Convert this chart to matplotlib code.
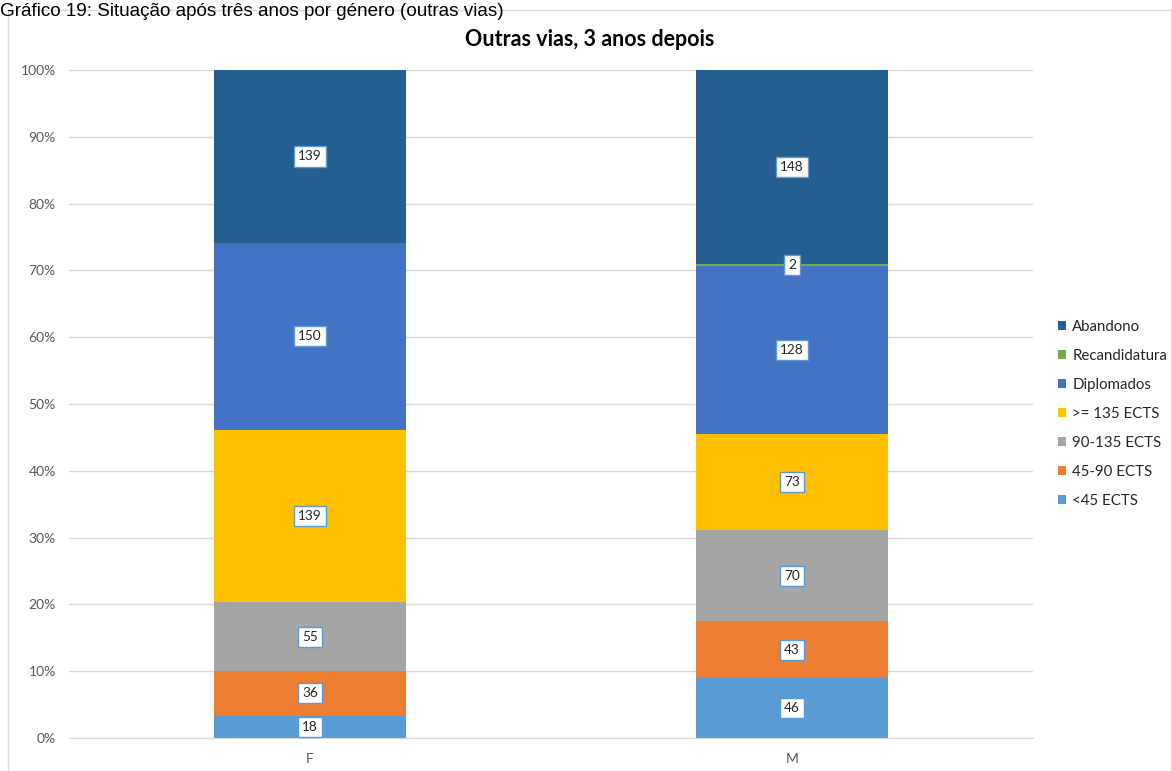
import matplotlib
matplotlib.use("Agg")
import matplotlib.pyplot as plt
from matplotlib.patches import Rectangle
import numpy as np

categories = ["F", "M"]
series_names = ["<45 ECTS", "45-90 ECTS", "90-135 ECTS", ">= 135 ECTS",
                "Diplomados", "Recandidatura", "Abandono"]
lt45 = [18, 46]
e45_90 = [36, 43]
e90_135 = [55, 70]
ge135 = [139, 73]
diplomados = [150, 128]
recandidatura = [0, 2]
abandono = [139, 148]
colors = ["#5B9BD5", "#ED7D31", "#A5A5A5", "#FFC000", "#4472C4", "#70AD47", "#255E91"]

values = np.array([lt45, e45_90, e90_135, ge135, diplomados, recandidatura, abandono], dtype=float)
totals = values.sum(axis=0)
pct = values / totals * 100

W, H = 1172, 771
fig = plt.figure(figsize=(W / 100, H / 100), dpi=100)
plt.rcParams['font.family'] = ['Lato', 'DejaVu Sans']

# outer chart border
fig.patches.append(Rectangle((8 / W, 0), (W - 9) / W, 1 - 10 / H, transform=fig.transFigure,
                             fill=False, edgecolor="#D9D9D9", linewidth=1))
# caption
fig.text(0, 1 - 16 / H, "Gráfico 19: Situação após três anos por género (outras vias)",
         fontsize=13.6, family="Liberation Sans", color="#000000", va="baseline", ha="left",
         zorder=5)

ax = fig.add_axes([69 / W, 1 - 738 / H, (1033 - 69) / W, (738 - 70) / H])
x = np.arange(len(categories))
bottom = np.zeros(len(categories))
handles = []
for i, name in enumerate(series_names):
    b = ax.bar(x, pct[i], 0.4, bottom=bottom, color=colors[i], label=name, zorder=2)
    handles.append(b)
    for j in range(len(categories)):
        if values[i, j] > 0:
            ax.text(x[j], bottom[j] + pct[i, j] / 2, f"{int(values[i, j])}",
                    ha="center", va="center", fontsize=9.8, color="#262626", zorder=3,
                    bbox=dict(boxstyle="square,pad=0.3", fc="white", ec="#5B9BD5", lw=1))
    bottom += pct[i]

ax.set_xlim(-0.5, 1.5)
ax.set_ylim(0, 100)
ax.set_yticks(np.arange(0, 101, 10))
ax.set_yticklabels([f"{v}%" for v in range(0, 101, 10)], fontsize=10, color="#595959")
ax.set_xticks(x)
ax.set_xticklabels(categories, fontsize=10, color="#595959")
ax.yaxis.grid(True, color="#D9D9D9", linewidth=1, zorder=0)
for s in ax.spines.values():
    s.set_visible(False)
ax.spines["bottom"].set_visible(True)
ax.spines["bottom"].set_color("#D9D9D9")
ax.tick_params(axis="both", length=0)
ax.tick_params(axis="x", pad=11)
ax.tick_params(axis="y", pad=9.5)

fig.text(590 / W, 1 - 40 / H, "Outras vias, 3 anos depois", ha="center", va="center",
         fontsize=15.5, fontweight="bold", color="#000000")

leg = ax.legend(handles[::-1], series_names[::-1], loc="center left",
                bbox_to_anchor=(1058 / W, 1 - 414 / H), bbox_transform=fig.transFigure,
                frameon=False, fontsize=10.8, handlelength=0.55, handleheight=0.55,
                handletextpad=0.4, labelspacing=1.0, borderaxespad=0, borderpad=0)
for t in leg.get_texts():
    t.set_color("#262626")

fig.savefig("out.png", dpi=100)
